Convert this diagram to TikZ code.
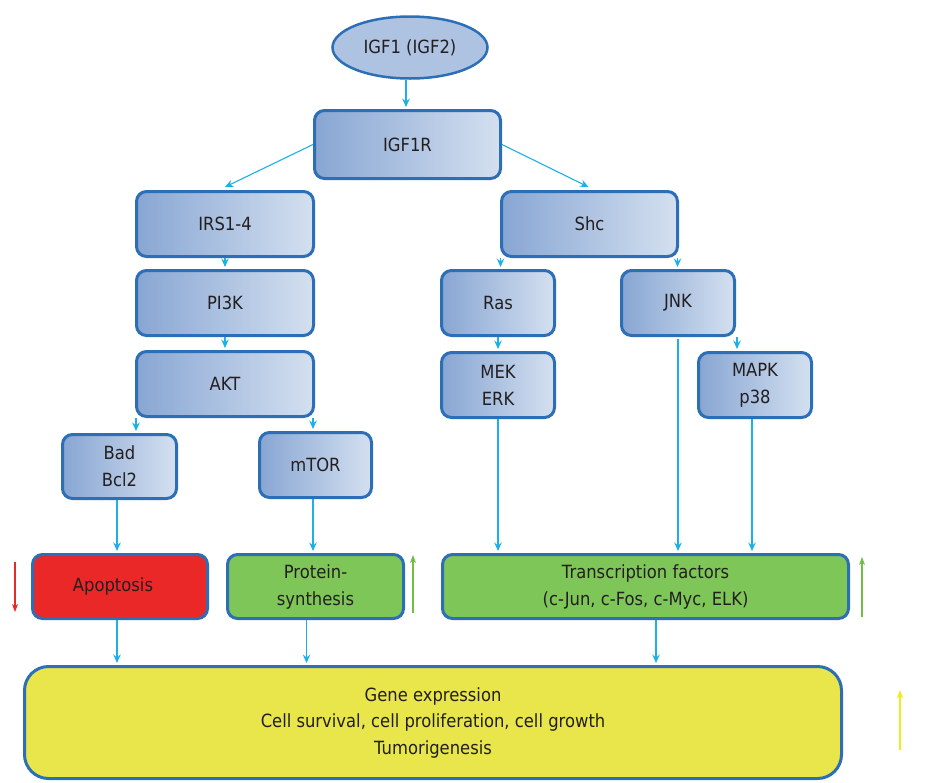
\documentclass[tikz,border=0pt]{standalone}
\usepackage{fontspec}
\setmainfont[FakeStretch=0.9]{DejaVu Sans}
\usetikzlibrary{arrows.meta,shapes.geometric}
\definecolor{bord}{HTML}{2C6FB6}
\definecolor{arrc}{HTML}{1CB0E8}
\definecolor{bleft}{HTML}{88A6D3}
\definecolor{bright}{HTML}{D4E0F0}
\definecolor{ellc}{HTML}{AEC2E2}
\definecolor{redc}{HTML}{EA2828}
\definecolor{greenc}{HTML}{7EC657}
\definecolor{yelc}{HTML}{E8E64A}
\definecolor{txt}{HTML}{231F20}
\definecolor{gup}{HTML}{72BE44}
\definecolor{yup}{HTML}{F2EA1A}
\tikzset{
  base/.style={draw=bord, line width=3pt, rounded corners=10pt, align=center,
    text=txt, font=\fontsize{18.2}{27}\selectfont, inner sep=0pt},
  bluebox/.style={base, left color=bleft, right color=bright, shading angle=90},
  redbox/.style={base, fill=redc},
  greenbox/.style={base, fill=greenc},
  yelbox/.style={base, fill=yelc, rounded corners=24pt},
  ell/.style={draw=bord, line width=2.5pt, fill=ellc, ellipse, inner sep=0pt,
    text=txt, font=\fontsize{18.2}{27}\selectfont},
  arr/.style={draw=arrc, line width=1.1pt, -{Stealth[length=8.5pt,width=7.5pt,inset=3pt]}},
  sidearr/.style={line width=1.1pt, -{Stealth[length=8pt,width=6pt,inset=2.5pt]}},
}
\begin{document}
\begin{tikzpicture}[x=1pt,y=-1pt]
\useasboundingbox[fill=white] (0,0) rectangle (928,782);
% nodes
\node[ell, minimum width=155pt, minimum height=62pt] (igf1) at (410,47.5) {IGF1 (IGF2)};
\node[bluebox, minimum width=186pt, minimum height=68pt] (igf1r) at (407.5,144.5) {IGF1R};
\node[bluebox, minimum width=177pt, minimum height=65pt] (irs) at (225,224) {IRS1-4};
\node[bluebox, minimum width=177pt, minimum height=65pt] (pi3k) at (225,303) {PI3K};
\node[bluebox, minimum width=177pt, minimum height=65pt] (akt) at (225,384) {AKT};
\node[bluebox, minimum width=176pt, minimum height=65pt] (shc) at (589.5,224) {Shc};
\node[bluebox, minimum width=113pt, minimum height=65pt] (ras) at (498,303) {Ras};
\node[bluebox, minimum width=113pt, minimum height=65pt] (jnk) at (678,303) {JNK};
\node[bluebox, minimum width=113pt, minimum height=65pt] (mek) at (498,385) {MEK\\ERK};
\node[bluebox, minimum width=113pt, minimum height=65pt] (mapk) at (755,385) {MAPK\\p38};
\node[bluebox, minimum width=114pt, minimum height=64pt] (bad) at (119.5,466.5) {Bad\\Bcl2};
\node[bluebox, minimum width=112pt, minimum height=65pt] (mtor) at (315.5,465) {mTOR};
\node[redbox, minimum width=175pt, minimum height=64pt] (apop) at (120,586.5) {\hspace*{-14pt}Apoptosis};
\node[greenbox, minimum width=176pt, minimum height=64pt] (prot) at (315.5,586.5) {Protein-\\synthesis};
\node[greenbox, minimum width=406pt, minimum height=64pt] (tf) at (645.5,586.5) {Transcription factors\\(c-Jun, c-Fos, c-Myc, ELK)};
\node[yelbox, minimum width=817pt, minimum height=112pt, font=\fontsize{18.2}{26.5}\selectfont] (gene) at (433,722.5) {Gene expression\\Cell survival, cell proliferation, cell growth\\Tumorigenesis};
% connectors
\draw[arr] ([xshift=-4pt]igf1.south) -- ([xshift=-4pt,yshift=2pt]igf1.south |- igf1r.north);
\draw[arr] (igf1r.west) -- ([yshift=3pt]irs.north);
\draw[arr] (igf1r.east) -- ([xshift=-1pt,yshift=3pt]shc.north);
\draw[arr] (irs.south) -- ([yshift=2pt]pi3k.north);
\draw[arr] (pi3k.south) -- ([yshift=2pt]akt.north);
\draw[arr] ([xshift=-89pt]akt.south) -- ([xshift=-89pt,yshift=2pt]akt.south |- bad.north);
\draw[arr] ([xshift=88pt]akt.south) -- ([xshift=88pt,yshift=2pt]akt.south |- mtor.north);
\draw[arr] ([xshift=-89pt]shc.south) -- ([xshift=-89pt,yshift=2pt]shc.south |- ras.north);
\draw[arr] ([xshift=88pt]shc.south) -- ([xshift=88pt,yshift=2pt]shc.south |- jnk.north);
\draw[arr] (ras.south) -- ([yshift=2pt]mek.north);
\draw[arr] ([xshift=59pt]jnk.south) -- ([xshift=59pt,yshift=2pt]jnk.south |- mapk.north);
\draw[arr] ([yshift=-2pt]jnk.south) -- ([yshift=2pt]jnk.south |- tf.north);
\draw[arr] (mek.south) -- ([yshift=2pt]mek.south |- tf.north);
\draw[arr] ([xshift=-3pt]mapk.south) -- ([xshift=-3pt,yshift=2pt]mapk.south |- tf.north);
\draw[arr] ([xshift=-2.5pt]bad.south) -- ([xshift=-2.5pt,yshift=2pt]bad.south |- apop.north);
\draw[arr] ([xshift=-2.5pt]mtor.south) -- ([xshift=-2.5pt,yshift=2pt]mtor.south |- prot.north);
\draw[arr] ([xshift=-3pt]apop.south) -- ([xshift=-3pt,yshift=2pt]apop.south |- gene.north);
\draw[arr] ([xshift=-9pt]prot.south) -- ([xshift=-9pt,yshift=2pt]prot.south |- gene.north);
\draw[arr] ([xshift=10.5pt]tf.south) -- ([xshift=10.5pt,yshift=2pt]tf.south |- gene.north);
% side indicators
\coordinate (r1) at (15,562); \coordinate (r2) at (15,612);
\coordinate (g1) at (413,613); \coordinate (g2) at (413,555);
\coordinate (h1) at (862,617); \coordinate (h2) at (862,557);
\coordinate (y1) at (900,750); \coordinate (y2) at (900,690);
\draw[sidearr, draw=redc] (r1) -- (r2);
\draw[sidearr, draw=gup] (g1) -- (g2);
\draw[sidearr, draw=gup] (h1) -- (h2);
\draw[sidearr, draw=yup] (y1) -- (y2);
\end{tikzpicture}
\end{document}
